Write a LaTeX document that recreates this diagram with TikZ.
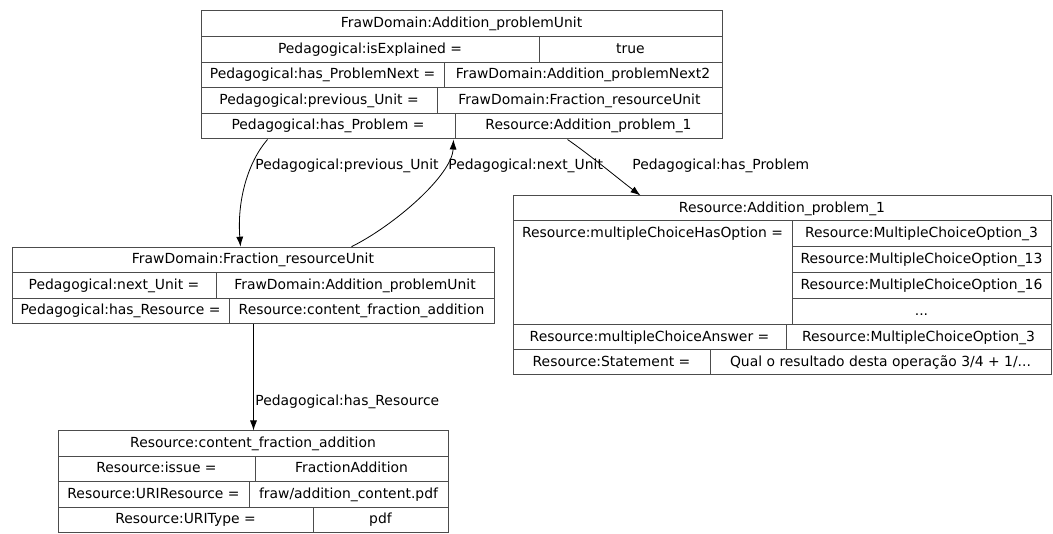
\documentclass[tikz,border=0pt]{standalone}
\usepackage{fontspec}
\setmainfont{DejaVu Sans}
\usetikzlibrary{arrows.meta}

\tikzset{
  cell/.style={draw=black!70, line width=1pt, inner sep=0pt, minimum height=25.6pt, text height=10.5pt, text depth=3pt},
  cell_text/.style={inner sep=0pt, text height=10.5pt, text depth=3pt},
  edge_label/.style={anchor=west, inner sep=0pt},
}

\begin{document}
\begin{tikzpicture}[x=1pt, y=-1pt, font=\fontsize{13.9}{16}\selectfont, >={Latex[length=10pt,width=7pt]}]
\path[fill=white, use as bounding box] (0,0) rectangle (1053,534);

\node[cell, minimum width=521pt] (addition_unit) at (461.5,23.8) {FrawDomain:Addition\_problemUnit};
\node[cell, minimum width=338pt] (is_explained_key) at (370,49.4) {Pedagogical:isExplained =};
\node[cell, minimum width=183pt] (is_explained_value) at (630.5,49.4) {true};
\node[cell, minimum width=243pt] (problem_next_key) at (322.5,75) {Pedagogical:has\_ProblemNext =};
\node[cell, minimum width=278pt] (problem_next_value) at (583,75) {FrawDomain:Addition\_problemNext2};
\node[cell, minimum width=236pt] (previous_unit_key) at (319,100.6) {Pedagogical:previous\_Unit =};
\node[cell, minimum width=285pt] (previous_unit_value) at (579.5,100.6) {FrawDomain:Fraction\_resourceUnit};
\node[cell, minimum width=254pt] (has_problem_key) at (328,126.2) {Pedagogical:has\_Problem =};
\node[cell, minimum width=267pt] (has_problem_value) at (588.5,126.2) {Resource:Addition\_problem\_1};

\node[cell, minimum width=482pt] (fraction_unit) at (253,260) {FrawDomain:Fraction\_resourceUnit};
\node[cell, minimum width=204pt] (next_unit_key) at (114,285.6) {Pedagogical:next\_Unit =};
\node[cell, minimum width=278pt] (next_unit_value) at (355,285.6) {FrawDomain:Addition\_problemUnit};
\node[cell, minimum width=217pt] (has_resource_key) at (120.5,311.2) {Pedagogical:has\_Resource =};
\node[cell, minimum width=265pt] (has_resource_value) at (361.5,311.2) {Resource:content\_fraction\_addition};

\node[cell, minimum width=538pt, minimum height=25pt] (problem_unit) at (782,208.5) {Resource:Addition\_problem\_1};
\node[cell, minimum width=279pt, minimum height=104pt] (has_option_key) at (652.5,273) {};
\node[cell_text] (has_option_text) at (652.5,234) {Resource:multipleChoiceHasOption =};
\node[cell, minimum width=259pt, minimum height=26pt] (option_a) at (921.5,234) {Resource:MultipleChoiceOption\_3};
\node[cell, minimum width=259pt, minimum height=26pt] (option_b) at (921.5,260) {Resource:MultipleChoiceOption\_13};
\node[cell, minimum width=259pt, minimum height=26pt] (option_c) at (921.5,286) {Resource:MultipleChoiceOption\_16};
\node[cell, minimum width=259pt, minimum height=26pt] (option_more) at (921.5,312) {...};
\node[cell, minimum width=273pt, minimum height=25pt] (answer_key) at (649.5,337.5) {Resource:multipleChoiceAnswer =};
\node[cell, minimum width=265pt, minimum height=25pt] (answer_value) at (918.5,337.5) {Resource:MultipleChoiceOption\_3};
\node[cell, minimum width=197pt, minimum height=25pt] (statement_key) at (611.5,362.5) {Resource:Statement =};
\node[cell, minimum width=341pt, minimum height=25pt] (statement_value) at (880.5,362.5) {Qual o resultado desta operação 3/4 + 1/...};

\node[cell, minimum width=390pt, minimum height=25.5pt] (content_unit) at (253,443.75) {Resource:content\_fraction\_addition};
\node[cell, minimum width=197pt, minimum height=25.5pt] (issue_key) at (156.5,469.25) {Resource:issue =};
\node[cell, minimum width=193pt, minimum height=25.5pt] (issue_value) at (351.5,469.25) {FractionAddition};
\node[cell, minimum width=191pt, minimum height=25.5pt] (uri_resource_key) at (153.5,494.75) {Resource:URIResource =};
\node[cell, minimum width=199pt, minimum height=25.5pt] (uri_resource_value) at (348.5,494.75) {fraw/addition\_content.pdf};
\node[cell, minimum width=255pt, minimum height=25.5pt] (uri_type_key) at (185.5,520.25) {Resource:URIType =};
\node[cell, minimum width=135pt, minimum height=25.5pt] (uri_type_value) at (380.5,520.25) {pdf};

\draw[->, line width=0.8pt] ([xshift=67pt]has_problem_key.south west) .. controls (248,162) and (237,200) .. ([xshift=229pt]fraction_unit.north west)
  node[edge_label] (previous_label) at (255,166) {Pedagogical:previous\_Unit};
\draw[->, line width=0.8pt] ([xshift=340pt]fraction_unit.north west) .. controls (395,225) and (452,175) .. ([xshift=-2pt]has_problem_key.south east)
  node[edge_label] (next_label) at (448,166) {Pedagogical:next\_Unit};
\draw[->, line width=0.8pt] ([xshift=113pt]has_problem_value.south west) .. controls (590,155) and (620,180) .. ([xshift=128pt]problem_unit.north west)
  node[edge_label] (has_problem_label) at (632,166) {Pedagogical:has\_Problem};
\draw[->, line width=0.8pt] ([xshift=25pt]has_resource_value.south west) -- ([xshift=196pt]content_unit.north west)
  node[edge_label] (has_resource_label) at (255,402) {Pedagogical:has\_Resource};
\end{tikzpicture}
\end{document}
